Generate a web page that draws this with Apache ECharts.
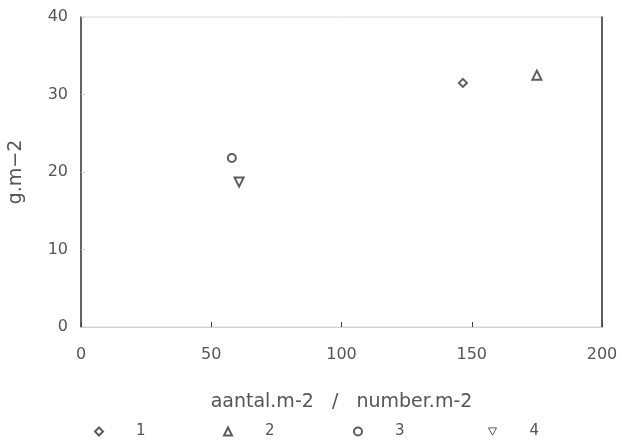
<!DOCTYPE html>
<html>
<head>
<meta charset="utf-8">
<script src="https://cdn.jsdelivr.net/npm/echarts@6/dist/echarts.min.js"></script>
<style>
html, body { margin: 0; padding: 0; background: #fff; }
#box1 { width: 622px; height: 445px; }
</style>
</head>
<body>
<div id="box1"></div>
<script>
var seriesNames = ['1', '2', '3', '4'];
var s1 = [[146.6, 31.5]];
var s2 = [[175, 32.5]];
var s3 = [[57.9, 21.8]];
var s4 = [[60.7, 18.7]];
var xTicks = [0, 50, 100, 150, 200];
var yTicks = [0, 10, 20, 30, 40];

var dom = document.getElementById("box1");
var myChart = echarts.init(dom);
var option = null;

var textCol = '#555';
var font = '"DejaVu Sans", sans-serif';

var symbols = ['emptyDiamond', 'emptyTriangle', 'emptyCircle', 'emptyTriangle'];
var sizes = [8, 9, 8, 9];
var rotations = [0, 0, 0, 180];
// legend icons; the last one is the upside-down triangle
var legendIcons = ['emptyDiamond', 'emptyTriangle', 'emptyCircle', 'path://M0,0 L10,0 L5,9 Z'];

function mk(i, data) {
    return {
        name: seriesNames[i],
        type: 'scatter',
        data: data,
        symbol: symbols[i],
        symbolSize: sizes[i],
        symbolRotate: rotations[i],
        itemStyle: { color: '#333', borderWidth: 1 }
    };
}

// one legend per item so the spacing follows the picture
var legendCenter = [98, 227, 357, 492];
var legends = seriesNames.map(function (n, i) {
    var lg = {
        data: [{ name: n, icon: legendIcons[i] }],
        left: legendCenter[i] - 9,
        top: 419,
        itemWidth: 8,
        itemHeight: 8,
        itemGap: 0,
        textStyle: { color: textCol, fontFamily: font, fontSize: 15, padding: [0, 0, 0, 28] }
    };
    if (i === 3) {
        lg.itemStyle = { color: '#fff', borderColor: '#333', borderWidth: 1 };
    }
    return lg;
});

option = {
    backgroundColor: '#fff',
    grid: {
        left: 81, right: 20, top: 17, bottom: 118,
        outerBoundsMode: 'none',
        containLabel: false,
        show: true, borderColor: '#d8d8d8', borderWidth: 1
    },
    legend: legends,
    xAxis: {
        type: 'value',
        min: 0, max: 200, interval: 50,
        name: 'aantal.m-2   /   number.m-2',
        nameLocation: 'middle',
        nameGap: 66,
        nameTextStyle: { color: textCol, fontFamily: font, fontSize: 19 },
        axisLine: { lineStyle: { color: '#d0d0d0' } },
        axisTick: { inside: true, length: 5, lineStyle: { color: '#444' } },
        axisLabel: {
            margin: 20, color: textCol, fontFamily: font, fontSize: 16,
            formatter: function (v) { return xTicks.indexOf(v) >= 0 ? v : ''; }
        },
        splitLine: { show: false }
    },
    yAxis: [{
        type: 'value',
        min: 0, max: 40, interval: 10,
        name: 'g.m\u22122',
        nameLocation: 'middle',
        nameGap: 55,
        nameRotate: 90,
        nameTextStyle: { color: textCol, fontFamily: font, fontSize: 19 },
        axisLine: { show: true, lineStyle: { color: '#333', width: 1.5 } },
        axisTick: { inside: true, length: 4, lineStyle: { color: '#ccc' } },
        axisLabel: {
            margin: 13, color: textCol, fontFamily: font, fontSize: 16,
            formatter: function (v) { return yTicks.indexOf(v) >= 0 ? v : ''; }
        },
        splitLine: { show: false }
    }, {
        type: 'value',
        min: 0, max: 40, interval: 10,
        position: 'right',
        axisLine: { show: true, lineStyle: { color: '#333', width: 1.5 } },
        axisTick: { show: false },
        axisLabel: { show: false },
        splitLine: { show: false }
    }],
    series: [mk(0, s1), mk(1, s2), mk(2, s3), mk(3, s4)]
};

if (option && typeof option === "object") {
    myChart.setOption(option, true);
}
</script>
</body>
</html>
